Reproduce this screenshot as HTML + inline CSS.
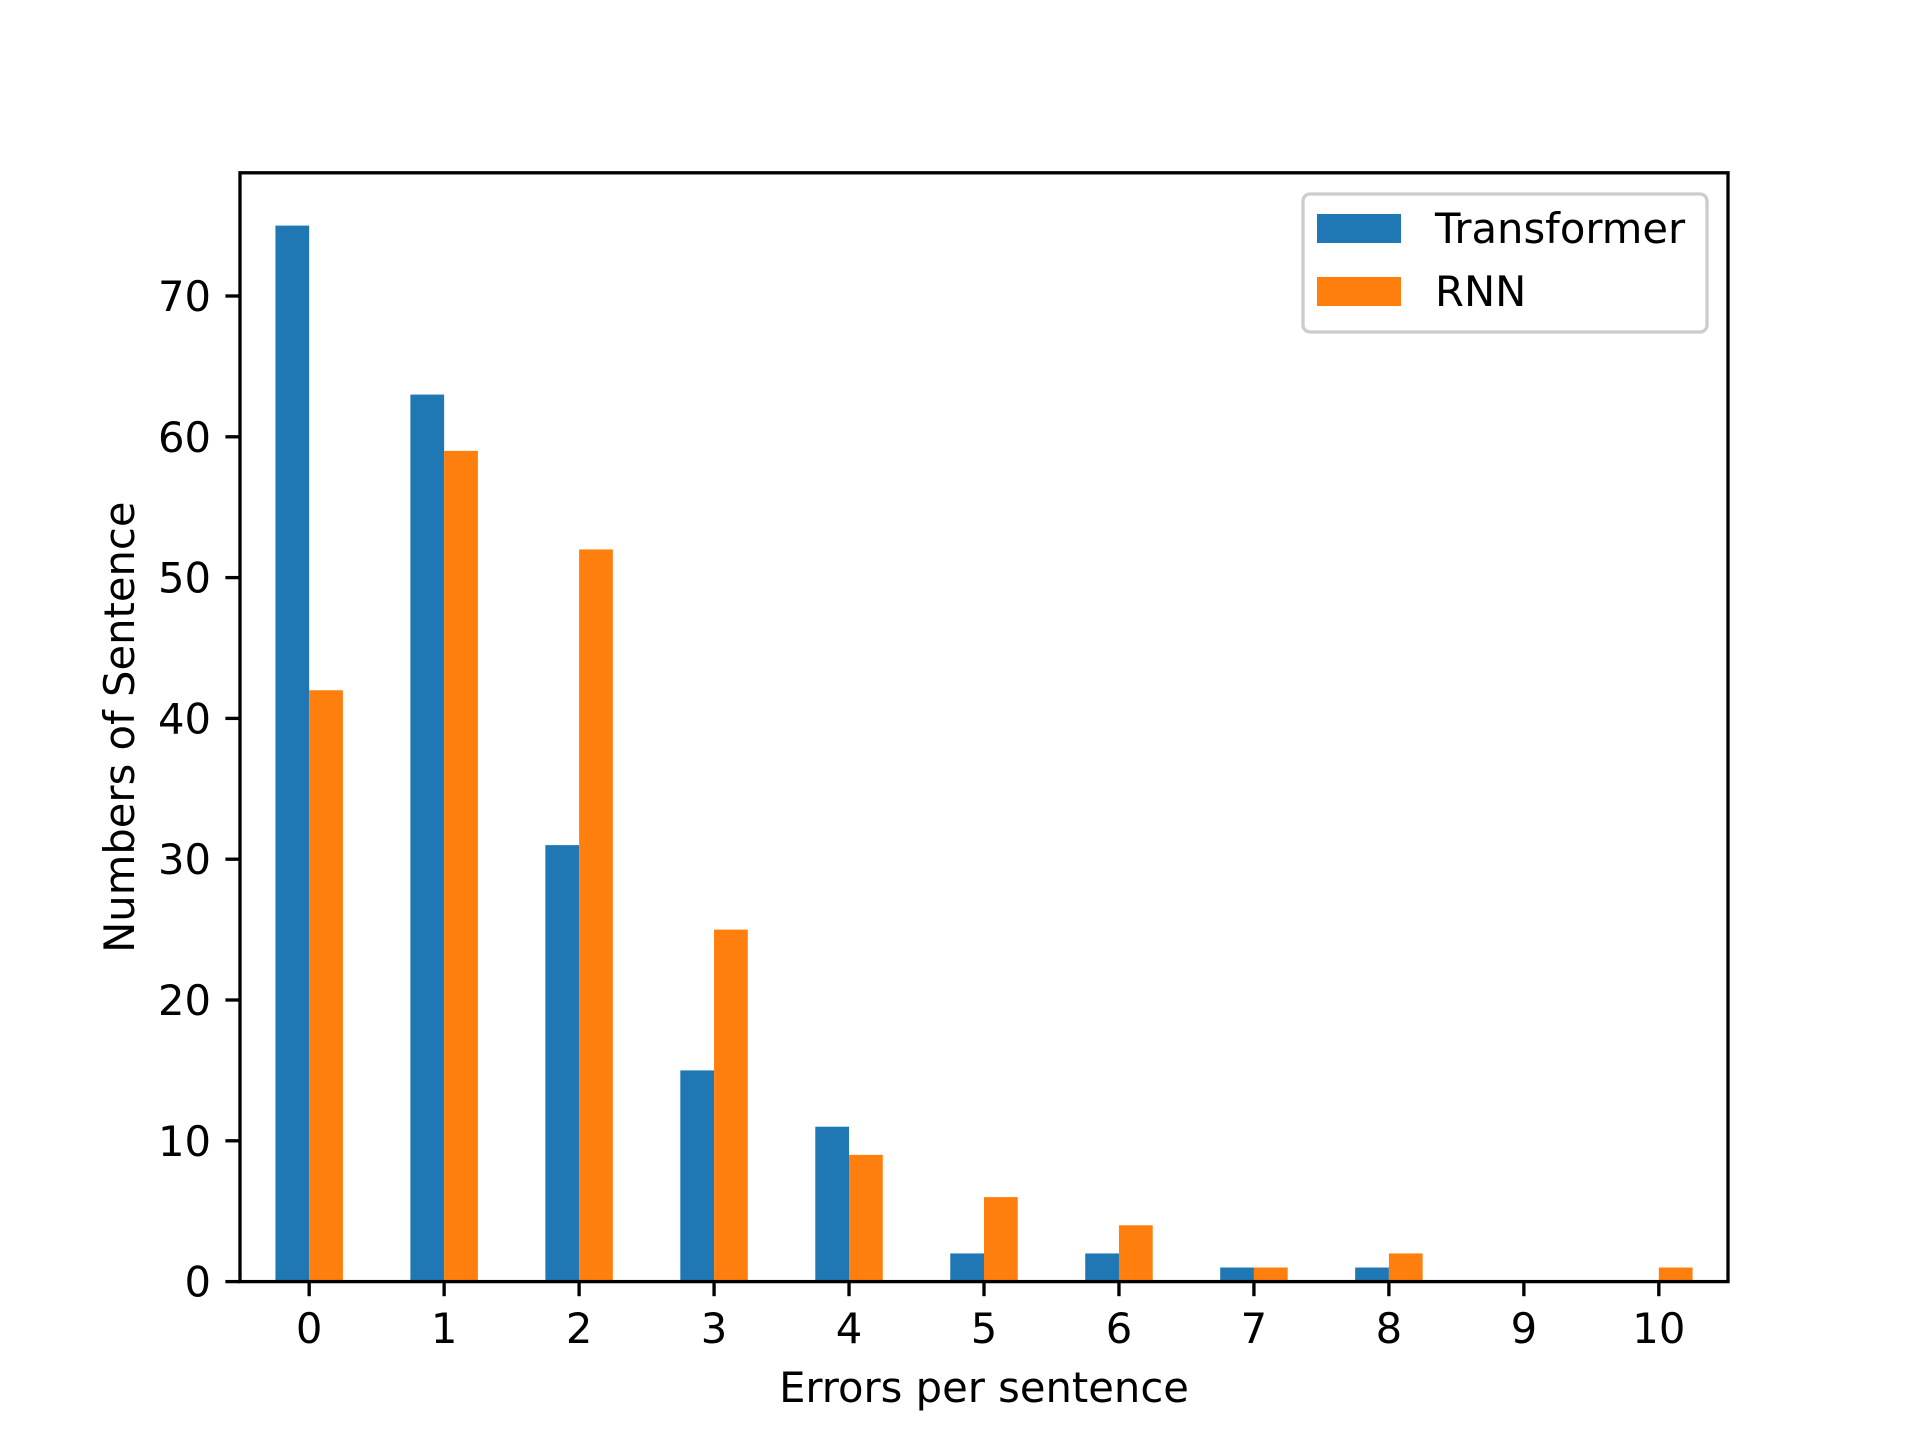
<!DOCTYPE html>
<html><head><meta charset="utf-8"><style>
html,body{margin:0;padding:0;background:#fff}
svg{display:block;font-family:"DejaVu Sans","Liberation Sans",sans-serif}
</style></head><body>
<svg id="chart" width="1920" height="1440" viewBox="0 0 1920 1440">
<rect width="1920" height="1440" fill="#fff"/>
<g id="bars"></g>
<g id="axes"></g>
</svg>
<script>
const categories = [0,1,2,3,4,5,6,7,8,9,10];
const transformerValues = [75,63,31,15,11,2,2,1,1,0,0];
const rnnValues = [42,59,52,25,9,6,4,1,2,0,1];
const yTicks = [0,10,20,30,40,50,60,70];

const L=240,R=1728,T=172.8,B=1281.6;
const xMin=-0.5125,xMax=10.5125,yMin=0,yMax=78.75;
const FS=41.7, TL=14.6, LW=3.33;
const xs=v=>L+(v-xMin)/(xMax-xMin)*(R-L);
const ys=v=>B-(v-yMin)/(yMax-yMin)*(B-T);
const NS="http://www.w3.org/2000/svg";
const bars=document.getElementById('bars'), axes=document.getElementById('axes');
function mk(tag,attrs,parent){const e=document.createElementNS(NS,tag);for(const k in attrs)e.setAttribute(k,attrs[k]);parent.appendChild(e);return e;}
const w=0.25;
categories.forEach((c,i)=>{
  const tv=transformerValues[i], rv=rnnValues[i];
  const b1=mk('rect',{x:xs(c-w),y:ys(tv),width:xs(c)-xs(c-w),height:ys(0)-ys(tv),fill:'#1f77b4'},bars);
  
  
  const b2=mk('rect',{x:xs(c),y:ys(rv),width:xs(c+w)-xs(c),height:ys(0)-ys(rv),fill:'#ff7f0e'},bars);
  
  
});
const frame=mk('rect',{x:L,y:T,width:R-L,height:B-T,fill:'none',stroke:'#000','stroke-width':LW},axes);


categories.forEach(c=>{
  const x=xs(c);
  const t=mk('line',{x1:x,x2:x,y1:B,y2:B+TL,stroke:'#000','stroke-width':LW},axes);
  
  
  const l=mk('text',{x:x,y:1343,'text-anchor':'middle','font-size':FS,fill:'#000'},axes);
  l.textContent=c;
  
  
});
yTicks.forEach(v=>{
  const y=ys(v);
  const t=mk('line',{x1:L-TL,x2:L,y1:y,y2:y,stroke:'#000','stroke-width':LW},axes);
  
  
  const l=mk('text',{x:L-29,y:y+15,'text-anchor':'end','font-size':FS,fill:'#000'},axes);
  l.textContent=v;
  
  
});
const xl=mk('text',{x:(L+R)/2,y:1402,'text-anchor':'middle','font-size':FS},axes);
xl.textContent='Errors per sentence';


const yl=mk('text',{x:0,y:0,'text-anchor':'middle','font-size':FS,transform:'translate(134,'+((T+B)/2)+') rotate(-90)'},axes);
yl.textContent='Numbers of Sentence';


const lg=mk('g',{},axes);


mk('rect',{x:1303,y:194,width:404,height:138,rx:7,fill:'#fff','fill-opacity':0.8,stroke:'#ccc','stroke-width':3.33},lg);
const items=[['Transformer','#1f77b4',214],['RNN','#ff7f0e',277]];
items.forEach(([name,col,y])=>{
  const g=mk('g',{},lg);
  
  
  mk('rect',{x:1317,y:y,width:84,height:29,fill:col},g);
  const t=mk('text',{x:1435,y:y+29,'font-size':FS},g);
  t.textContent=name;
});
</script>
</body></html>
